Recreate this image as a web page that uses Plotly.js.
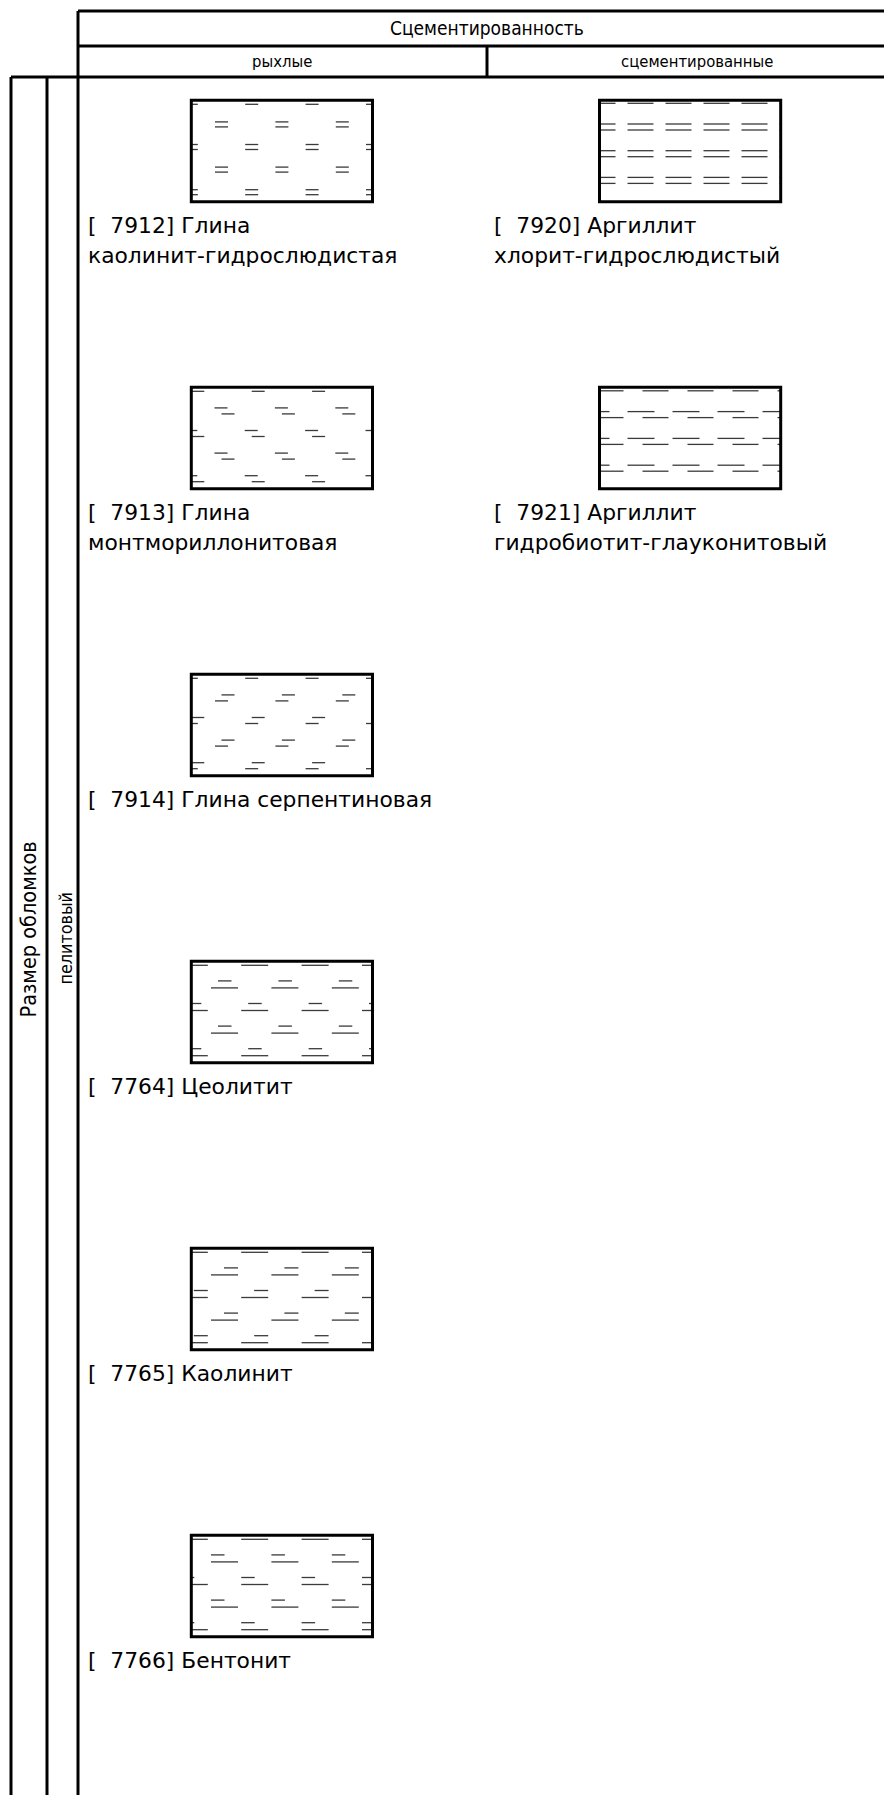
<!DOCTYPE html>
<html>
<head>
<meta charset="utf-8">
<script src="https://cdn.plot.ly/plotly-3.0.1.min.js"></script>
<style>
  html, body { margin: 0; padding: 0; background: #fff; }
  #chart { width: 884px; height: 1795px; }
</style>
</head>
<body>
<div id="chart"></div>
<script>
// ---------------- data ----------------
const groupTitle = 'Сцементированность';
const columnTitles = ['рыхлые', 'сцементированные'];
const sizeTitle = 'Размер обломков';
const sizeClass = 'пелитовый';

const codes = [7912, 7913, 7914, 7764, 7765, 7766, 7920, 7921];
const nameLines = [
  ['Глина', 'каолинит-гидрослюдистая'],
  ['Глина', 'монтмориллонитовая'],
  ['Глина серпентиновая'],
  ['Цеолитит'],
  ['Каолинит'],
  ['Бентонит'],
  ['Аргиллит', 'хлорит-гидрослюдистый'],
  ['Аргиллит', 'гидробиотит-глауконитовый']
];
const columnOf = [0, 0, 0, 0, 0, 0, 1, 1];
const rowOf = [0, 1, 2, 3, 4, 5, 0, 1];
const patternOf = ['eq', 'tiltR', 'tiltL', 'shortMid', 'shortRight', 'shortLeft', 'dashDouble', 'dashStagger'];

// ---------------- layout / style ----------------
const W = 884, H = 1795;
const FRAME = { headTop: 11, headMid: 46, headBot: 77, leftOuter: 11, leftInner: 47, bodyLeft: 78, colDiv: 487 };
const COL = { boxLeft: [191.3, 599.5], textLeft: [85.5, 491.5], headCenter: [282, 697] };
const ROW = { boxTop: 100.3, step: 287, baseline: 233, lineGap: 30.5 };
const BOX = { w: 181.2, h: 101.4 };
const BODY_FONT = { family: 'DejaVu Sans', size: 21.8, color: '#000' };
const HEAD_FONT = 'DejaVu Sans Condensed';

// texture motifs (relative to box)
const STAGGER = {
  eq:         { gap: 5, up: [-6.5, 6.5], lo: [-6.5, 6.5] },
  tiltR:      { gap: 6, up: [-7, 6],     lo: [0, 13] },
  tiltL:      { gap: 6, up: [0, 13],     lo: [-6.5, 6.5] },
  shortMid:   { gap: 7, up: [-3.5, 10],  lo: [-10.5, 16.5] },
  shortRight: { gap: 7, up: [2.5, 16.5], lo: [-10.5, 16.5] },
  shortLeft:  { gap: 7, up: [-10.5, 3],  lo: [-10.5, 16.5] }
};
const DASHED = {
  dashDouble:  { gap: 6, y0: 3, dy: 26.7, up: { s: -10, p: 38, l: 26 }, lo: { s: -10, p: 38, l: 26 } },
  dashStagger: { gap: 6, y0: 3.5, dy: 26.8, up: { s: -17, p: 45, l: 27 }, lo: { s: -2, p: 45, l: 26 } }
};

function textureSegments(type, L, T, w, h) {
  const segs = [];
  function add(x0, x1, y) {
    if (y < 0.8 || y > h - 0.8) return;
    const a = Math.max(0, x0), b = Math.min(w, x1);
    if (b - a > 0.3) segs.push([L + a, L + b, T + y]);
  }
  if (STAGGER[type]) {
    const m = STAGGER[type];
    const px = w / 3, py = 22.6;
    for (let k = 0; k < 6; k++) {
      const yl = 4 + py * k, yu = yl - m.gap;
      const off = (k % 2 === 0) ? 0 : px / 2;
      for (let j = -1; j <= 4; j++) {
        const cx = off + px * j;
        add(cx + m.up[0], cx + m.up[1], yu);
        add(cx + m.lo[0], cx + m.lo[1], yl);
      }
    }
  } else {
    const m = DASHED[type];
    for (let k = 0; k < 6; k++) {
      const yl = m.y0 + m.dy * k, yu = yl - m.gap;
      for (let j = 0; j < 8; j++) {
        add(m.up.s + m.up.p * j, m.up.s + m.up.p * j + m.up.l, yu);
        add(m.lo.s + m.lo.p * j, m.lo.s + m.lo.p * j + m.lo.l, yl);
      }
    }
  }
  return segs;
}

// ---------------- build ----------------
const tx = [], ty = [];
const shapes = [];
const annotations = [];

function hline(y, x0, x1) {
  shapes.push({ type: 'line', xref: 'x', yref: 'y', x0: x0, x1: x1, y0: y, y1: y, line: { color: '#000', width: 3 } });
}
function vline(x, y0, y1) {
  shapes.push({ type: 'line', xref: 'x', yref: 'y', x0: x, x1: x, y0: y0, y1: y1, line: { color: '#000', width: 3 } });
}

hline(FRAME.headTop, FRAME.bodyLeft, W + 5);
hline(FRAME.headMid, FRAME.bodyLeft, W + 5);
hline(FRAME.headBot, FRAME.leftOuter, W + 5);
vline(FRAME.bodyLeft, FRAME.headTop, H + 5);
vline(FRAME.colDiv, FRAME.headMid, FRAME.headBot);
vline(FRAME.leftOuter, FRAME.headBot, H + 5);
vline(FRAME.leftInner, FRAME.headBot, H + 5);

annotations.push({ x: 487, y: 28, xref: 'x', yref: 'y', text: groupTitle, showarrow: false,
  xanchor: 'center', yanchor: 'middle', font: { family: HEAD_FONT, size: 19, color: '#000' } });
columnTitles.forEach((t, i) => {
  annotations.push({ x: COL.headCenter[i], y: 61, xref: 'x', yref: 'y', text: t, showarrow: false,
    xanchor: 'center', yanchor: 'middle', font: { family: HEAD_FONT, size: 16.5, color: '#000' } });
});
annotations.push({ x: 27.5, y: 930, xref: 'x', yref: 'y', text: sizeTitle, showarrow: false, textangle: -90,
  xanchor: 'center', yanchor: 'middle', font: { family: HEAD_FONT, size: 21.5, color: '#000' } });
annotations.push({ x: 64.5, y: 939, xref: 'x', yref: 'y', text: sizeClass, showarrow: false, textangle: -90,
  xanchor: 'center', yanchor: 'middle', font: { family: HEAD_FONT, size: 17.8, color: '#000' } });

codes.forEach((code, i) => {
  const c = columnOf[i], r = rowOf[i];
  const L = COL.boxLeft[c], T = ROW.boxTop + ROW.step * r;
  textureSegments(patternOf[i], L, T, BOX.w, BOX.h).forEach(s => {
    tx.push(s[0], s[1], null); ty.push(s[2], s[2], null);
  });
  shapes.push({ type: 'rect', xref: 'x', yref: 'y', x0: L, x1: L + BOX.w, y0: T, y1: T + BOX.h,
    line: { color: '#000', width: 3 }, fillcolor: 'rgba(0,0,0,0)' });
  const lines = nameLines[i].slice();
  lines[0] = '[\u00a0\u00a0' + code + '] ' + lines[0];
  lines.forEach((ln, k) => {
    const base = ROW.baseline + ROW.step * r + ROW.lineGap * k;
    annotations.push({ x: COL.textLeft[c], y: base - 0.346 * BODY_FONT.size, xref: 'x', yref: 'y',
      text: ln, showarrow: false, xanchor: 'left', yanchor: 'middle', font: BODY_FONT });
  });
});

const traces = [{
  type: 'scatter', mode: 'lines', x: tx, y: ty, hoverinfo: 'skip',
  line: { color: '#3a3a3a', width: 1.3 }, showlegend: false
}];

const layout = {
  width: W, height: H,
  margin: { l: 0, r: 0, t: 0, b: 0, pad: 0 },
  paper_bgcolor: '#fff', plot_bgcolor: '#fff',
  xaxis: { range: [0, W], visible: false, fixedrange: true },
  yaxis: { range: [H, 0], visible: false, fixedrange: true },
  shapes: shapes, annotations: annotations, showlegend: false
};

Plotly.newPlot('chart', traces, layout, { staticPlot: true, displayModeBar: false });
</script>
</body>
</html>
